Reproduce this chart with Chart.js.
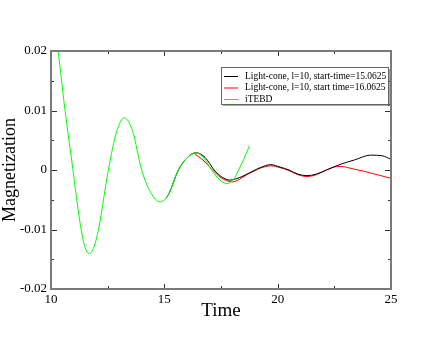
<!DOCTYPE html>
<html>
<head>
<meta charset="utf-8">
<script src="https://cdn.jsdelivr.net/npm/chart.js@4/dist/chart.umd.min.js"></script>
<style>
  html, body { margin: 0; padding: 0; background: #fff; }
  #wrap { width: 440px; height: 340px; position: relative; }
</style>
</head>
<body>
<div id="wrap"><canvas id="chart" width="440" height="340"></canvas></div>
<script>
// series labels
const seriesLabels = [
    'Light-cone, l=10, start-time=15.0625',
    'Light-cone, l=10, start time=16.0625',
    'iTEBD'
];

// light-cone, start 15.0625 (black)
const blackT = [15.0625, 15.2, 15.62, 16.0, 16.4, 16.8, 17.2, 17.55, 17.9, 18.3, 18.64, 19.0, 19.23, 19.7, 20.1, 20.5, 20.9, 21.3, 21.7, 22.15, 22.8, 23.4, 24.1, 24.6, 25.0];
const blackM = [-0.0048, -0.004, 0, 0.00204, 0.0029, 0.0021, 0, -0.0012, -0.0017, -0.0013, -0.0007, 0, 0.0004, 0.0009, 0.0005, 0, -0.0007, -0.00095, -0.0007, 0, 0.001, 0.0017, 0.0025, 0.0024, 0.0018];

// light-cone, start 16.0625 (red)
const redT = [16.33, 16.7, 17.1, 17.5, 18.0, 18.3, 18.64, 19.0, 19.23, 19.7, 20.1, 20.5, 20.9, 21.3, 21.7, 22.15, 22.5, 22.8, 23.2, 23.8, 24.4, 25.0];
const redM = [0.0027, 0.0017, 0.0001, -0.0013, -0.002, -0.0016, -0.0008, -0.0001, 0.0003, 0.0007, 0.0004, -0.0001, -0.0008, -0.0011, -0.0008, 0, 0.0005, 0.0006, 0.0003, -0.0002, -0.0008, -0.0014];

// iTEBD (green)
const greenT = [10.0, 10.31, 10.62, 10.97, 11.2, 11.45, 11.68, 11.9, 12.1, 12.53, 12.9, 13.23, 13.6, 14.0, 14.4, 14.82, 15.0625, 15.2, 15.62, 16.0, 16.4, 16.75, 17.09, 17.4, 17.76, 18.1, 18.3, 18.5, 18.76];
const greenM = [0.0275, 0.02, 0.01, 0, -0.0068, -0.0123, -0.01406, -0.0129, -0.0099, 0, 0.0065, 0.0088, 0.0065, 0, -0.0038, -0.00536, -0.0048, -0.004, 0, 0.00204, 0.00288, 0.002, 0, -0.0015, -0.00228, -0.0013, 0.0002, 0.0018, 0.0041];

const COLORS = ['#000000', '#ff0000', '#00ff00'];
const SERIF = '"Liberation Serif", "DejaVu Serif", serif';

function pts(xs, ys) {
    return xs.map((x, i) => ({ x: x, y: ys[i] }));
}

function isMajor(v, step) {
    return Math.abs(v / step - Math.round(v / step)) < 1e-6;
}

// frame + inward ticks on all four sides (xmgrace style)
const framePlugin = {
    id: 'frame',
    afterDatasetsDraw(chart) {
        const ctx = chart.ctx;
        const a = chart.chartArea;
        const xs = chart.scales.x, ys = chart.scales.y;
        ctx.save();
        ctx.strokeStyle = '#333';
        ctx.lineWidth = 1;
        ctx.beginPath();
        xs.ticks.forEach(t => {
            const px = Math.round(xs.getPixelForValue(t.value)) + 0.5;
            const len = isMajor(t.value, 5) ? 5 : 3;
            ctx.moveTo(px, a.bottom); ctx.lineTo(px, a.bottom - len);
            ctx.moveTo(px, a.top); ctx.lineTo(px, a.top + len);
        });
        ys.ticks.forEach(t => {
            const py = Math.round(ys.getPixelForValue(t.value)) + 0.5;
            const len = isMajor(t.value, 0.01) ? 6 : 3;
            ctx.moveTo(a.left, py); ctx.lineTo(a.left + len, py);
            ctx.moveTo(a.right, py); ctx.lineTo(a.right - len, py);
        });
        ctx.stroke();
        ctx.strokeStyle = '#7a7a7a';
        ctx.lineWidth = 2;
        ctx.strokeRect(a.left, a.top, a.right - a.left, a.bottom - a.top);
        ctx.restore();
    }
};

// legend box inside the plot, top right
const legendPlugin = {
    id: 'boxLegend',
    afterDraw(chart) {
        const ctx = chart.ctx;
        const bx = 221, by = 67, bw = 167, bh = 37;
        ctx.save();
        ctx.fillStyle = '#fff';
        ctx.fillRect(bx, by, bw, bh);
        ctx.fillStyle = '#555';
        ctx.fillRect(bx + 2, by + bh, bw, 1.5);
        ctx.fillRect(bx + bw, by + 2, 1.5, bh);
        ctx.strokeStyle = '#666';
        ctx.lineWidth = 1;
        ctx.strokeRect(bx + 0.5, by + 0.5, bw, bh);
        ctx.font = '9.5px ' + SERIF;
        ctx.textBaseline = 'middle';
        chart.data.datasets.forEach((ds, i) => {
            const y = by + 9 + i * 11.5;
            ctx.strokeStyle = ds.borderColor;
            ctx.beginPath();
            ctx.moveTo(bx + 3, y + 0.5);
            ctx.lineTo(bx + 17, y + 0.5);
            ctx.stroke();
            ctx.fillStyle = '#000';
            ctx.fillText(ds.label, bx + 24, y);
        });
        ctx.restore();
    }
};

new Chart(document.getElementById('chart'), {
    type: 'line',
    data: {
        datasets: [
            { label: seriesLabels[0], data: pts(blackT, blackM), borderColor: COLORS[0], order: 1 },
            { label: seriesLabels[1], data: pts(redT, redM), borderColor: COLORS[1], order: 2 },
            { label: seriesLabels[2], data: pts(greenT, greenM), borderColor: COLORS[2], order: 0 }
        ]
    },
    options: {
        responsive: false,
        animation: false,
        devicePixelRatio: 1,
        layout: { padding: { top: 51, right: 49, left: 0, bottom: 0 } },
        elements: {
            line: { borderWidth: 1, cubicInterpolationMode: 'monotone', fill: false },
            point: { radius: 0, hoverRadius: 0 }
        },
        plugins: {
            legend: { display: false },
            tooltip: { enabled: false }
        },
        scales: {
            x: {
                type: 'linear',
                min: 10,
                max: 25,
                border: { display: false },
                grid: { display: false, drawTicks: false },
                ticks: {
                    stepSize: 2.5,
                    padding: 3,
                    autoSkip: false,
                    maxRotation: 0,
                    color: '#000',
                    font: { family: SERIF, size: 13 },
                    callback: v => isMajor(v, 5) ? String(Math.round(v)) : ''
                },
                title: {
                    display: true,
                    text: 'Time',
                    color: '#000',
                    font: { family: SERIF, size: 19, lineHeight: 1.2 },
                    padding: 18
                },
                afterFit: s => { s.height = 51; }
            },
            y: {
                min: -0.02,
                max: 0.02,
                border: { display: false },
                grid: { display: false, drawTicks: false },
                ticks: {
                    stepSize: 0.005,
                    padding: 4,
                    autoSkip: false,
                    color: '#000',
                    font: { family: SERIF, size: 13 },
                    callback: v => isMajor(v, 0.01) ? String(Math.round(v * 100) / 100) : ''
                },
                title: {
                    display: true,
                    text: 'Magnetization',
                    color: '#000',
                    font: { family: SERIF, size: 18, lineHeight: 1 },
                    padding: 1
                },
                afterFit: s => { s.width = 51; }
            }
        }
    },
    plugins: [framePlugin, legendPlugin]
});
</script>
</body>
</html>
